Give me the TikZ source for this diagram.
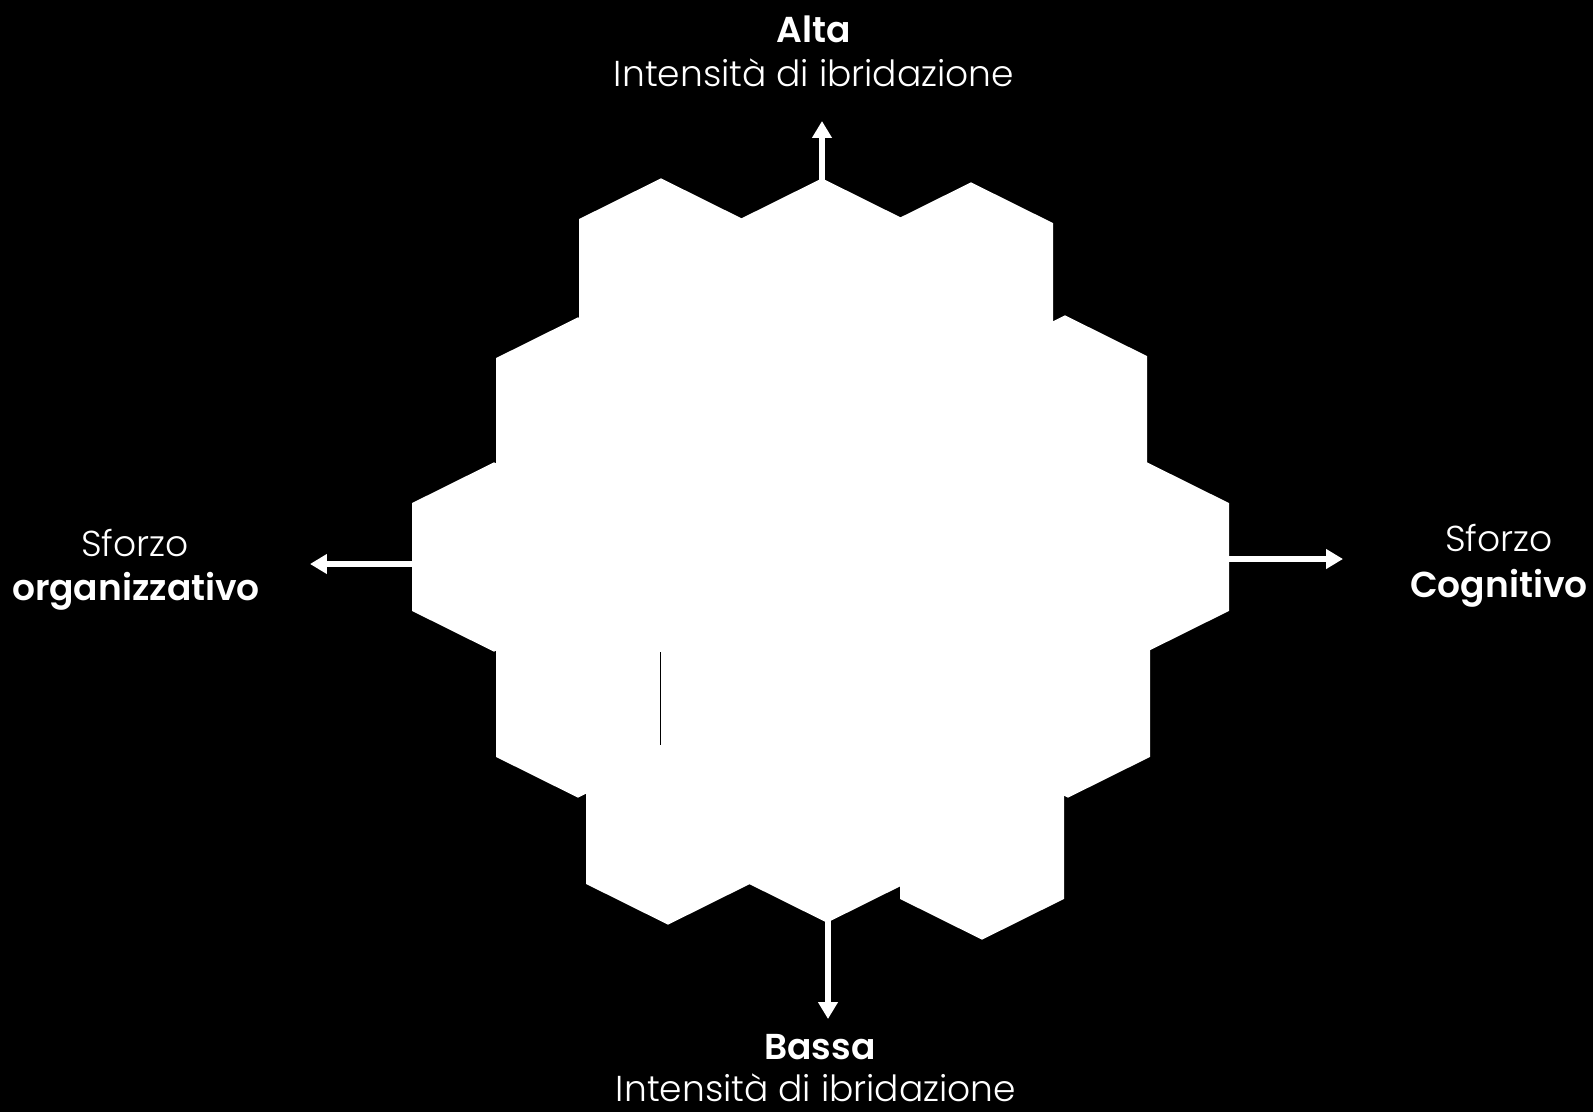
\documentclass[tikz,border=0pt]{standalone}
\usepackage{fontspec}
\setmainfont{Poppins}[UprightFont=* Light, BoldFont=* SemiBold]
\usetikzlibrary{arrows.meta}
\begin{document}
\begin{tikzpicture}[x=0.02cm,y=-0.02cm,
  cella/.style={fill=white,draw=white,line width=0.06cm},
  asse/.style={white,line width=3.1pt,-{Triangle[length=0.34cm,width=0.38cm]}},
  testo/.style={text=white,font=\fontsize{20.5}{24}\selectfont,anchor=base,inner sep=0pt}]
% sfondo
\fill[black] (0,0) rectangle (1593,1112);
\useasboundingbox (0,0) rectangle (1593,1112);
% nucleo dell'alveare
\fill[cella] (661,273) -- (822,273) -- (971,277) -- (1065,410) -- (1147,557)
  -- (1068,703) -- (982,845) -- (827,828) -- (668,830) -- (578,703)
  -- (494,557) -- (578,412) -- cycle;
% celle esagonali esterne
\foreach \cx/\cy in {661/273,822/273,971/277,1065/410,1147/557,1068/703,
  982/845,827/828,668/830,578/703,494/557,578/412}
  \filldraw[cella] (\cx,\cy-93) -- ++(80.5,40) -- ++(0,106) -- ++(-80.5,40)
    -- ++(-80.5,-40) -- ++(0,-106) -- cycle;
\draw[black,line width=0.5pt] (660,652) -- (660,745);
% assi
\coordinate (cimaA) at (822,181);
\coordinate (cimaB) at (822,121);
\coordinate (fondoA) at (828,920);
\coordinate (fondoB) at (828,1019);
\coordinate (sinA) at (413,564);
\coordinate (sinB) at (310,564);
\coordinate (desA) at (1228,559);
\coordinate (desB) at (1343,559);
\draw[asse] (cimaA) -- (cimaB);
\draw[asse] (fondoA) -- (fondoB);
\draw[asse] (sinA) -- (sinB);
\draw[asse] (desA) -- (desB);
% etichette
\node[testo] (alta) at (814,42) {\bfseries Alta};
\node[testo] (altaint) at (814,86) {Intensità di ibridazione};
\node[testo] (bassa) at (820,1059) {\bfseries Bassa};
\node[testo] (bassaint) at (816,1101) {Intensità di ibridazione};
\node[testo] (sforzosin) at (135,556) {Sforzo};
\node[testo] (organizz) at (136,600) {\bfseries organizzativo};
\node[testo] (sforzodes) at (1499,551) {Sforzo};
\node[testo] (cognit) at (1499,597) {\bfseries Cognitivo};
\end{tikzpicture}
\end{document}
